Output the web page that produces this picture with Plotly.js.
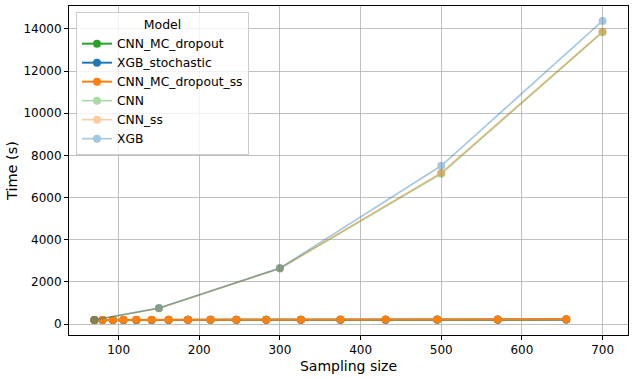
<!DOCTYPE html>
<html>
<head>
<meta charset="utf-8">
<script src="https://cdn.plot.ly/plotly-3.0.1.min.js"></script>
<style>html,body{margin:0;padding:0;background:#fff;}#chart{width:635px;height:378px;}</style>
</head>
<body>
<div id="chart"></div>
<script>
// Sampling sizes for the "ss" / stochastic runs
const ssSizes = [70, 80, 93, 106, 122, 141, 162, 186, 214, 246, 283, 326, 375, 431, 495, 570, 655];
// Sampling sizes for the plain runs
const baseSizes = [70, 150, 300, 500, 700];

const cnnMcDropout   = [185, 188, 190, 192, 193, 195, 196, 198, 199, 200, 202, 203, 204, 206, 207, 209, 211];
const xgbStochastic  = [188, 190, 192, 194, 195, 197, 198, 200, 201, 203, 204, 206, 207, 209, 210, 212, 214];
const cnnMcDropoutSs = [195, 196, 197, 198, 199, 200, 201, 202, 203, 205, 206, 208, 210, 212, 215, 218, 222];
const cnn   = [190, 745, 2640, 7130, 13850];
const cnnSs = [195, 750, 2645, 7180, 13880];
const xgb   = [200, 760, 2655, 7510, 14380];

const names = ["CNN_MC_dropout", "XGB_stochastic", "CNN_MC_dropout_ss", "CNN", "CNN_ss", "XGB"];
const colors = ["#2ca02c", "#1f77b4", "#ff7f0e", "#2ca02c", "#ff7f0e", "#1f77b4"];

function tr(x, y, i, op, lw) {
  return {
    x: x, y: y, name: names[i], type: "scatter", mode: "lines+markers",
    line: {color: colors[i], width: lw},
    marker: {color: colors[i], size: 8},
    opacity: op
  };
}

const data = [
  tr(ssSizes, cnnMcDropout, 0, 1, 2),
  tr(ssSizes, xgbStochastic, 1, 1, 2),
  tr(ssSizes, cnnMcDropoutSs, 2, 1, 2),
  tr(baseSizes, cnn, 3, 0.4, 1.6),
  tr(baseSizes, cnnSs, 4, 0.4, 1.6),
  tr(baseSizes, xgb, 5, 0.4, 1.6)
];

const axisCommon = {
  showline: true, mirror: true, linecolor: "#000", linewidth: 1,
  ticks: "outside", ticklen: 4, tickwidth: 1, tickcolor: "#000",
  showgrid: true, gridcolor: "#b0b0b0", gridwidth: 0.8,
  zeroline: false,
  tickfont: {family: "DejaVu Sans", size: 12, color: "#000"}
};

const layout = {
  width: 635, height: 378,
  margin: {l: 69, r: 7, t: 6, b: 43},
  paper_bgcolor: "#fff", plot_bgcolor: "#fff",
  font: {family: "DejaVu Sans", color: "#000"},
  showlegend: true,
  xaxis: Object.assign({}, axisCommon, {
    range: [38.5, 731.5], tickvals: [100, 200, 300, 400, 500, 600, 700],
    title: {text: "Sampling size", font: {family: "DejaVu Sans", size: 14}, standoff: 4}
  }),
  yaxis: Object.assign({}, axisCommon, {
    range: [-520, 15090], tickvals: [0, 2000, 4000, 6000, 8000, 10000, 12000, 14000],
    ticktext: ["0", "2000", "4000", "6000", "8000", "10000", "12000", "14000"],
    title: {text: "Time (s)", font: {family: "DejaVu Sans", size: 14.5}, standoff: 2}
  }),
  legend: {
    x: 0.0125, y: 0.982, xanchor: "left", yanchor: "top",
    bgcolor: "rgba(255,255,255,0.8)", bordercolor: "#cccccc", borderwidth: 1,
    font: {family: "DejaVu Sans", size: 12.3, color: "#000"},
    title: {text: "Model", side: "top center", font: {family: "DejaVu Sans", size: 12.5}},
    tracegroupgap: 0
  }
};

Plotly.newPlot("chart", data, layout, {displayModeBar: false, staticPlot: true});
</script>
</body>
</html>
